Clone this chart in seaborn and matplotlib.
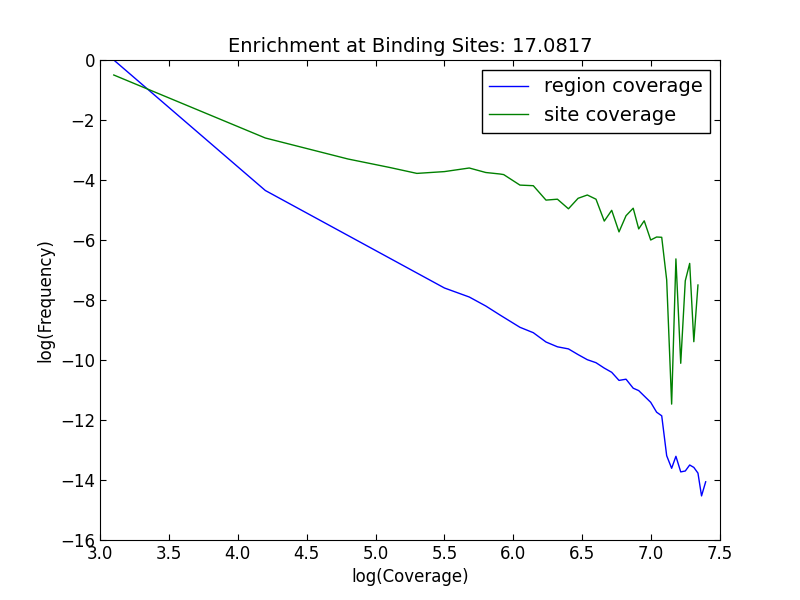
import matplotlib
matplotlib.use("Agg")
import matplotlib.pyplot as plt
import seaborn as sns
import pandas as pd

region_x = [3.1, 4.2, 4.7, 5.0, 5.3, 5.5, 5.68, 5.8, 5.903, 6.048, 6.145, 6.237, 6.32, 6.40, 6.47, 6.537,
            6.6, 6.66, 6.714, 6.767, 6.818, 6.87, 6.91, 6.95, 6.997, 7.04, 7.077, 7.113, 7.149, 7.18,
            7.215, 7.248, 7.28, 7.31, 7.34, 7.366, 7.396]
region_y = [0.0, -4.35, -5.6, -6.35, -7.1, -7.6, -7.9, -8.2, -8.5, -8.91, -9.09, -9.4, -9.56, -9.63, -9.82, -9.99,
            -10.09, -10.27, -10.41, -10.68, -10.64, -10.94, -11.02, -11.2, -11.41, -11.74, -11.86, -13.19, -13.61, -13.21,
            -13.73, -13.70, -13.5, -13.58, -13.77, -14.53, -14.06]
site_x = [3.1, 4.2, 4.5, 4.8, 5.1, 5.3, 5.5, 5.68, 5.8, 5.903, 5.93, 6.048, 6.145, 6.237, 6.32, 6.40, 6.47, 6.537,
          6.6, 6.66, 6.714, 6.767, 6.818, 6.87, 6.91, 6.95, 6.997, 7.04, 7.077, 7.113, 7.149, 7.18,
          7.215, 7.248, 7.28, 7.31, 7.34]
site_y = [-0.5, -2.6, -2.95, -3.3, -3.58, -3.78, -3.72, -3.6, -3.75, -3.8, -3.82, -4.17, -4.19, -4.67, -4.64, -4.96, -4.61, -4.5,
          -4.64, -5.37, -5.01, -5.73, -5.19, -4.94, -5.63, -5.36, -6.0, -5.9, -5.91, -7.33, -11.47, -6.63,
          -10.11, -7.36, -6.78, -9.39, -7.5]

df = pd.concat([
    pd.DataFrame({"x": region_x, "y": region_y, "s": "region coverage"}),
    pd.DataFrame({"x": site_x, "y": site_y, "s": "site coverage"}),
])

fig = plt.figure(figsize=(8, 6), dpi=100)
ax = fig.add_axes([0.125, 0.1, 0.775, 0.8])
sns.lineplot(data=df, x="x", y="y", hue="s", palette=["#0000ff", "#008000"], ax=ax,
             sort=False, estimator=None, linewidth=1)
ax.set_xlim(3.0, 7.5)
ax.set_ylim(-16, 0)
ax.set_xticks([3.0, 3.5, 4.0, 4.5, 5.0, 5.5, 6.0, 6.5, 7.0, 7.5])
ax.set_yticks(range(-16, 1, 2))
ax.tick_params(labelsize=12, direction="in", length=4, top=True, right=True)
ax.set_xlabel("log(Coverage)", fontsize=12)
ax.set_ylabel("log(Frequency)", fontsize=12)
ax.set_title("Enrichment at Binding Sites: 17.0817", fontsize=14)
leg = ax.legend(loc="upper right", fontsize=14, fancybox=False, framealpha=1, edgecolor="black")
leg.get_frame().set_linewidth(1)
fig.savefig("out.png")
